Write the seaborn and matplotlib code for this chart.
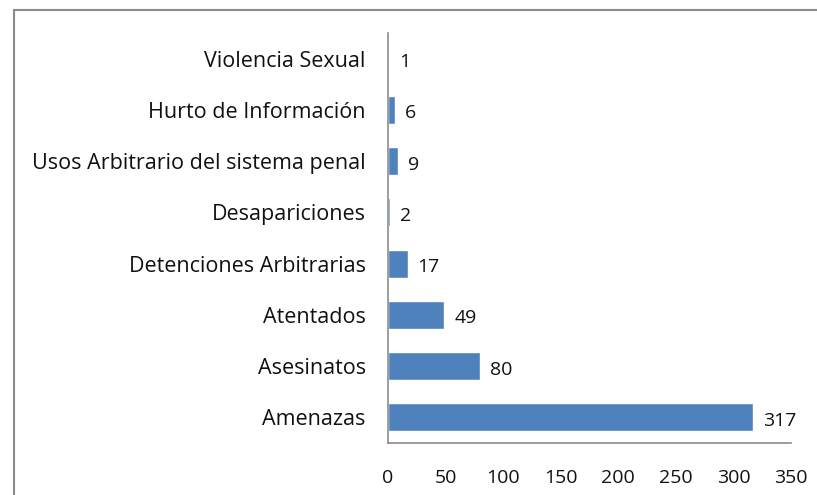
import matplotlib
matplotlib.use("Agg")
import matplotlib.pyplot as plt
import seaborn as sns
import pandas as pd
from matplotlib.lines import Line2D

categories = ["Violencia Sexual", "Hurto de Información", "Usos Arbitrario del sistema penal",
              "Desapariciones", "Detenciones Arbitrarias", "Atentados", "Asesinatos", "Amenazas"]
values = [1, 6, 9, 2, 17, 49, 80, 317]
xticks = [0, 50, 100, 150, 200, 250, 300, 350]

sns.set_style("white")
plt.rcParams["font.family"] = ["Open Sans", "DejaVu Sans"]

df = pd.DataFrame({"cat": categories, "val": values})

fig = plt.figure(figsize=(8.17, 4.95), dpi=100)
ax = fig.add_axes([388/817, 1-443/495, (791-388)/817, (443-33)/495])
sns.barplot(data=df, y="cat", x="val", orient="h", color="#4F81BD", saturation=1,
            width=0.55, ax=ax, order=categories)

ax.set_xlim(0, 350)
ax.set_xticks(xticks)
ax.set_xlabel("")
ax.set_ylabel("")
ax.tick_params(axis="y", length=0, labelsize=15.5, colors="#111111", pad=16)
ax.tick_params(axis="x", length=0, labelsize=14, colors="#111111", pad=19)
for s in ["top", "right"]:
    ax.spines[s].set_visible(False)
for s in ["left", "bottom"]:
    ax.spines[s].set_color("#8c8c8c")
    ax.spines[s].set_linewidth(1.2)

for i, v in enumerate(values):
    ax.annotate(str(v), xy=(v, i), xytext=(7, -2.5), textcoords="offset points",
                va="center", ha="left", fontsize=14, color="#111111")

fig.add_artist(Line2D([14/817, 14/817], [0, 1-10/495], transform=fig.transFigure, color="#8a8a8a", lw=1.5))
fig.add_artist(Line2D([14/817, 1], [1-10/495, 1-10/495], transform=fig.transFigure, color="#8a8a8a", lw=1.5))

fig.savefig("out.png", dpi=100)
